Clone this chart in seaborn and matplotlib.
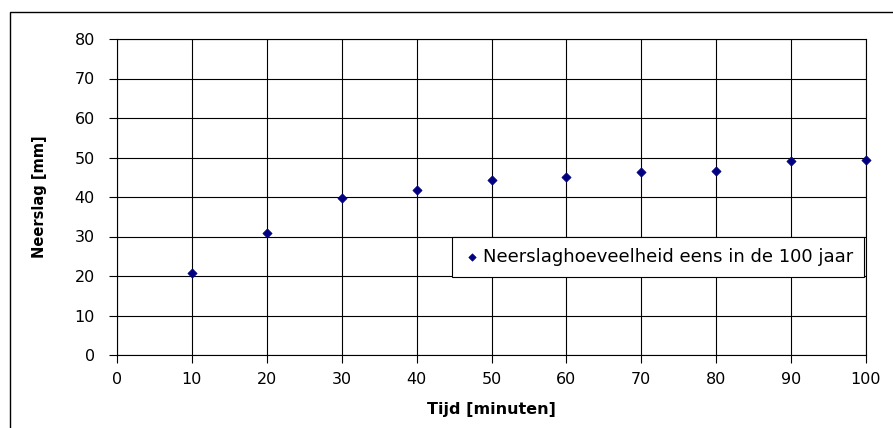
import matplotlib
matplotlib.use("Agg")
import matplotlib.pyplot as plt
import seaborn as sns
import pandas as pd
from matplotlib.patches import Rectangle

# data
tijd = [10, 20, 30, 40, 50, 60, 70, 80, 90, 100]
neerslag = [20.8, 30.9, 39.7, 41.7, 44.3, 45.1, 46.4, 46.7, 49.1, 49.4]
series_label = 'Neerslaghoeveelheid eens in de 100 jaar'

df = pd.DataFrame({'Tijd': tijd, 'Neerslag': neerslag})

sns.set_style("white")
plt.rcParams['font.family'] = ['DejaVu Sans']
plt.rcParams['text.color'] = 'black'
plt.rcParams['axes.labelcolor'] = 'black'
plt.rcParams['xtick.color'] = 'black'
plt.rcParams['ytick.color'] = 'black'

fig = plt.figure(figsize=(8.93, 4.28), dpi=100)
ax = fig.add_axes([117 / 893, 1 - 355 / 428, (866 - 117) / 893, (355 - 39) / 428])

sns.scatterplot(data=df, x='Tijd', y='Neerslag', ax=ax, marker='D', s=22,
                color='#000080', edgecolor='#000080', linewidth=0.5,
                label=series_label, zorder=3, clip_on=False)

ax.set_xlim(0, 100)
ax.set_ylim(0, 80)
ax.set_xticks(range(0, 101, 10))
ax.set_yticks(range(0, 81, 10))
ax.grid(True, color='black', linewidth=0.8)
ax.set_axisbelow(True)
for s in ax.spines.values():
    s.set_color('black')
    s.set_linewidth(0.8)
ax.tick_params(axis='both', direction='out', length=6, width=0.8, color='black',
               labelsize=11.5, bottom=True, left=True)
ax.tick_params(axis='y', pad=10)
ax.tick_params(axis='x', pad=6)

ax.set_xlabel('Tijd [minuten]', fontsize=11.5, fontweight='bold', labelpad=11)
ax.set_ylabel('Neerslag [mm]', fontsize=10.5, fontweight='bold', labelpad=20)

leg = ax.legend(loc='upper left', bbox_to_anchor=((452 - 117) / 749, (355 - 237) / 316),
                frameon=True, fancybox=False, edgecolor='black', framealpha=1,
                fontsize=13, handletextpad=0.1, borderpad=0.6, borderaxespad=0,
                handlelength=1.0, markerscale=0.8)
leg.get_frame().set_linewidth(0.8)

# outer chart-area border, cut at right and bottom like the reference
fig.patches.append(Rectangle((10 / 893, -0.05), 1.1, 1 - 12 / 428 + 0.05,
                             transform=fig.transFigure, fill=False,
                             edgecolor='black', linewidth=1))

fig.savefig('out.png', dpi=100)
